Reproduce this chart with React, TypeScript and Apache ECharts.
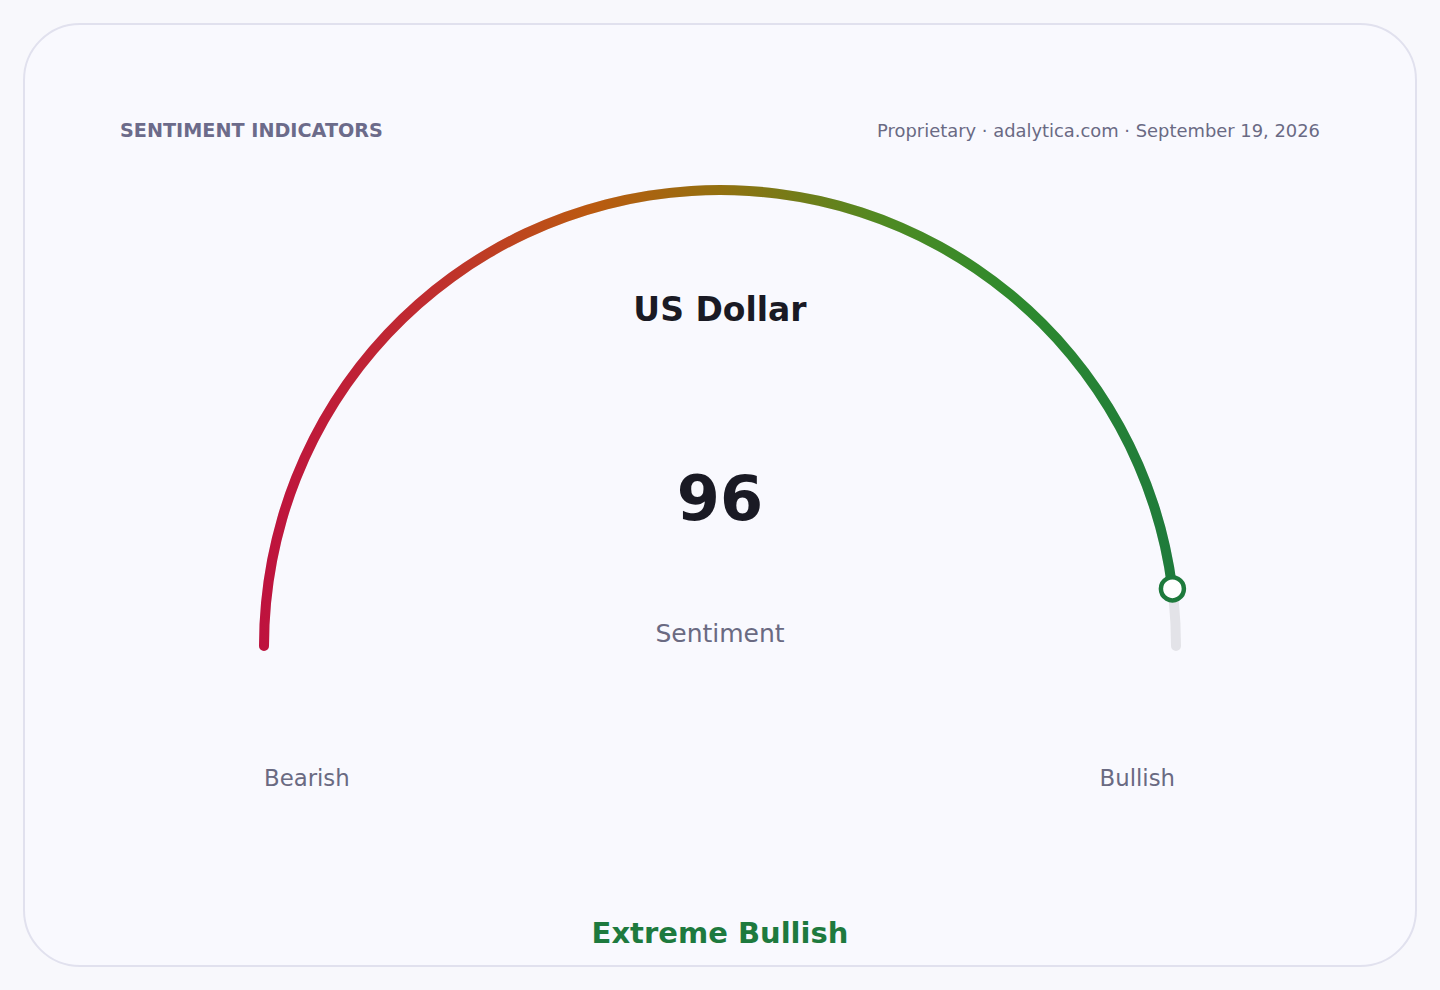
import { useEffect, useRef } from "react";
import * as echarts from "echarts";

// gauge data
const sentimentNames = ["Sentiment"];
const sentimentValues = [96];
const gaugeRange = [0, 100];
const endLabels = ["Bearish", "Bullish"];
const assetName = "US Dollar";
const verdict = "Extreme Bullish";
const headerLeft = "SENTIMENT INDICATORS";
const headerRight = "Proprietary · adalytica.com · September 19, 2026";

const FONT = "DejaVu Sans, sans-serif";
const CX = 720;
const CY = 646;
const R = 456;

export default function App() {
    const chartRef = useRef<HTMLDivElement | null>(null);

    useEffect(() => {
        document.body.style.margin = "0";
        if (!chartRef.current) return;
        const chart = echarts.init(chartRef.current, null, { renderer: "svg" });

        const arcGradient = new echarts.graphic.LinearGradient(
            CX - R - 5, 0, CX + R + 5, 0,
            [
                { offset: 0, color: "#be123e" },
                { offset: 0.18, color: "#c02c30" },
                { offset: 0.36, color: "#bb5a10" },
                { offset: 0.5, color: "#937010" },
                { offset: 0.68, color: "#4e8a22" },
                { offset: 0.82, color: "#2e8a2e" },
                { offset: 1, color: "#1e7a3c" },
            ],
            true
        );

        const option: any = {
            animation: false,
            backgroundColor: "#f8f8fc",
            polar: { center: [CX, CY], radius: R },
            angleAxis: {
                type: "value",
                min: 0,
                max: (gaugeRange[1] - gaugeRange[0]) * 2,
                startAngle: 180,
                show: false,
            },
            radiusAxis: { type: "value", min: 0, max: 1, show: false },
            graphic: {
                elements: [
                    {
                        type: "rect",
                        z: -10,
                        shape: { x: 24, y: 24, width: 1392, height: 942, r: 56 },
                        style: { fill: "#f9f9fe", stroke: "#e1e1ee", lineWidth: 2 },
                    },
                    {
                        type: "text",
                        style: {
                            text: headerLeft, x: 120, y: 130, align: "left", verticalAlign: "middle",
                            fontFamily: FONT, fontSize: 19.2, fontWeight: "bold", fill: "#6c6b8a",
                        },
                    },
                    {
                        type: "text",
                        style: {
                            text: headerRight, x: 1320, y: 130, align: "right", verticalAlign: "middle",
                            fontFamily: FONT, fontSize: 17.9, fill: "#6a6a84",
                        },
                    },
                    {
                        type: "text",
                        style: {
                            text: assetName, x: CX, y: 309, align: "center", verticalAlign: "middle",
                            fontFamily: FONT, fontSize: 33, fontWeight: "bold", fill: "#1a1a24",
                        },
                    },
                    {
                        type: "text",
                        style: {
                            text: endLabels[0], x: 264, y: 778, align: "left", verticalAlign: "middle",
                            fontFamily: FONT, fontSize: 22.8, fill: "#6a6a82",
                        },
                    },
                    {
                        type: "text",
                        style: {
                            text: endLabels[1], x: 1175, y: 778, align: "right", verticalAlign: "middle",
                            fontFamily: FONT, fontSize: 22.8, fill: "#6a6a82",
                        },
                    },
                    {
                        type: "text",
                        style: {
                            text: verdict, x: CX, y: 933, align: "center", verticalAlign: "middle",
                            fontFamily: FONT, fontSize: 29, fontWeight: "bold", fill: "#1e7a3e",
                        },
                    },
                ],
            },
            series: [
                {
                    type: "gauge",
                    center: [CX, CY],
                    radius: R + 5,
                    startAngle: 180,
                    endAngle: 0,
                    min: gaugeRange[0],
                    max: gaugeRange[1],
                    axisLine: {
                        roundCap: true,
                        lineStyle: { width: 10, color: [[1, "#e3e3e8"]] },
                    },
                    progress: {
                        show: true,
                        width: 10,
                        roundCap: true,
                        itemStyle: { color: arcGradient },
                    },
                    pointer: { show: false },
                    anchor: { show: false },
                    axisTick: { show: false },
                    splitLine: { show: false },
                    axisLabel: { show: false },
                    title: {
                        offsetCenter: [0, -13],
                        fontFamily: FONT,
                        fontSize: 25,
                        color: "#6a6a82",
                    },
                    detail: {
                        offsetCenter: [0, -148],
                        fontFamily: FONT,
                        fontSize: 62,
                        fontWeight: "bold",
                        color: "#1a1a24",
                        formatter: "{value}",
                    },
                    data: sentimentValues.map((v, i) => ({ value: v, name: sentimentNames[i] })),
                },
                {
                    type: "scatter",
                    coordinateSystem: "polar",
                    symbol: "circle",
                    symbolSize: 23,
                    z: 5,
                    itemStyle: { color: "#ffffff", borderColor: "#1e7a3c", borderWidth: 4.5, opacity: 1 },
                    data: sentimentValues.map((v) => [1, v - gaugeRange[0]]),
                },
            ],
        };

        chart.setOption(option);

        return () => {
            chart.dispose();
        };
    }, []);

    return <div ref={chartRef} style={{ width: "1440px", height: "990px" }} />;
}
